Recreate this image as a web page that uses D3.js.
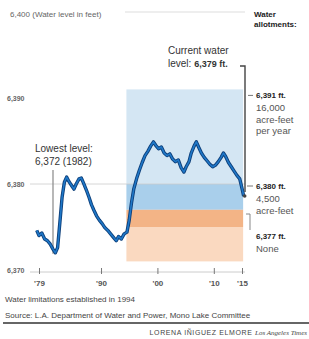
<!DOCTYPE html>
<html><head><meta charset="utf-8">
<script src="https://cdn.jsdelivr.net/npm/d3@7"></script>
<style>body{margin:0;background:#fff}svg{display:block;font-family:"Liberation Sans",Arial,sans-serif}</style>
</head><body><svg id="c" width="309" height="339"></svg>
<script>
const years = [1978.6,1979.0,1979.5,1980.0,1980.5,1981.0,1981.5,1981.9,1982.3,1982.7,1983.1,1983.5,1983.9,1984.3,1984.8,1985.2,1985.6,1986.1,1986.5,1986.9,1987.4,1987.9,1988.3,1988.7,1989.2,1989.7,1990.2,1990.7,1991.2,1991.7,1992.2,1992.7,1993.1,1993.6,1994.1,1994.6,1995.0,1995.4,1995.8,1996.3,1996.8,1997.3,1997.8,1998.3,1998.8,1999.3,1999.7,2000.2,2000.7,2001.2,2001.7,2002.2,2002.7,2003.2,2003.7,2004.2,2004.7,2005.1,2005.6,2006.0,2006.5,2006.9,2007.3,2007.8,2008.3,2008.8,2009.3,2009.8,2010.3,2010.8,2011.3,2011.7,2012.1,2012.6,2013.1,2013.6,2014.1,2014.6,2015.0,2015.3];
const levels = [6374.6,6374.0,6374.3,6373.6,6373.4,6373.0,6372.4,6372.0,6372.6,6375.5,6378.5,6380.2,6380.8,6380.3,6379.8,6379.4,6380.0,6380.6,6380.7,6380.1,6379.3,6378.4,6377.6,6377.0,6376.3,6375.8,6375.4,6374.9,6374.6,6374.2,6373.8,6373.4,6373.9,6373.6,6374.2,6374.4,6375.8,6377.8,6379.4,6380.6,6381.6,6382.5,6383.3,6383.8,6384.4,6384.9,6384.5,6384.1,6384.3,6383.6,6383.3,6383.5,6382.9,6382.6,6382.8,6381.9,6381.4,6382.0,6382.6,6383.6,6384.4,6384.9,6384.3,6383.6,6383.1,6382.7,6382.3,6382.0,6382.2,6382.6,6383.1,6383.6,6383.2,6382.5,6382.0,6381.5,6381.0,6380.6,6379.5,6378.6];
const tickYears = [1979,1990,2000,2010,2015];
const tickLabels = ["'79","'90","'00","'10","'15"];
const yTicks = [6370,6380,6390];
const yTickLabels = ["6,370","6,380","6,390"];
const zoneTops = [6391,6380,6377,6375];
const zoneBottoms = [6380,6377,6375,6371];
const zoneColors = ["#d4e6f3","#a9cfeb","#f3b486","#fad9c0"];
const zoneStart = 1994.5, zoneEnd = 2015.2;

const svg = d3.select("#c");
const x = d3.scaleLinear().domain([1979,2015]).range([39,242]);
const y = d3.scaleLinear().domain([6370,6380]).range([270,184]);

// zones
svg.selectAll("rect.zone").data(zoneTops).join("rect")
  .attr("x", x(zoneStart)).attr("width", x(zoneEnd)-x(zoneStart))
  .attr("y", d=>y(d)).attr("height",(d,i)=>y(zoneBottoms[i])-y(d))
  .attr("fill",(d,i)=>zoneColors[i]);

// gridlines
svg.append("line").attr("x1",125).attr("x2",245).attr("y1",y(6400)).attr("y2",y(6400)).attr("stroke","#ddd");
svg.append("line").attr("x1",30).attr("x2",245).attr("y1",y(6380)).attr("y2",y(6380)).attr("stroke","#ccc").attr("stroke-width",0.8);

// x axis
const xAxis = d3.axisBottom(x).tickValues(tickYears).tickFormat((d,i)=>tickLabels[i]).tickSize(5).tickPadding(3);
const gx = svg.append("g").attr("transform",`translate(0,${y(6370)+2})`).call(xAxis);
gx.select(".domain").attr("d",`M30,0H245`).attr("stroke","#ccc");
gx.selectAll(".tick line").attr("stroke","#777").attr("y1",-4).attr("y2",2);
gx.selectAll(".tick text").attr("font-size",8).attr("font-weight","bold").attr("fill","#555");

// y labels
svg.selectAll("text.yl").data(yTicks).join("text")
  .attr("x",7).attr("y",d=>y(d)+3).attr("font-size",7).attr("font-weight","bold").attr("fill","#666")
  .text((d,i)=>yTickLabels[i]);
svg.append("text").attr("x",10).attr("y",17).attr("font-size",8).attr("fill","#666").text("6,400 (Water level in feet)");

// lowest-level pointer
svg.append("line").attr("x1",53).attr("x2",53).attr("y1",170).attr("y2",y(6372)+1).attr("stroke","#888").attr("stroke-width",1.2);
svg.append("text").attr("x",35).attr("y",152).attr("font-size",10).attr("fill","#333").text("Lowest level:");
svg.append("text").attr("x",35).attr("y",165).attr("font-size",10).attr("fill","#333").text("6,372 (1982)");

// line
const line = d3.line().x((d,i)=>x(years[i])).y(d=>y(d)).curve(d3.curveLinear);
svg.append("path").datum(levels).attr("d",line).attr("fill","none").attr("stroke","#0d3f7a").attr("stroke-width",3.4).attr("stroke-linejoin","round");
svg.append("path").datum(levels).attr("d",line).attr("fill","none").attr("stroke","#1f78c8").attr("stroke-width",1.6).attr("stroke-linejoin","round");
const lastI = years.length-1;
svg.append("circle").attr("cx",x(years[lastI])+1).attr("cy",y(levels[lastI])).attr("r",1.8).attr("fill","#444");

// current level
const cur = svg.append("text").attr("x",168).attr("y",67).attr("font-size",10).attr("fill","#333");
svg.append("text").attr("x",168).attr("y",54).attr("font-size",10).attr("fill","#333").text("Current water");
cur.append("tspan").text("level: ");
cur.append("tspan").attr("font-weight","bold").attr("font-size",9).text("6,379 ft.");
svg.append("path").attr("d",`M240,66H245V${y(levels[lastI])-4}`).attr("fill","none").attr("stroke","#444").attr("stroke-width",1.4);

// right labels
svg.append("text").attr("x",254).attr("y",17).attr("font-size",8).attr("font-weight","bold").attr("fill","#222").text("Water");
svg.append("text").attr("x",254).attr("y",27).attr("font-size",8).attr("font-weight","bold").attr("fill","#222").text("allotments:");
function label(yy, bold, lines){
  svg.append("text").attr("x",256).attr("y",yy).attr("font-size",8).attr("font-weight","bold").attr("fill","#222").text(bold);
  lines.forEach((t,i)=>svg.append("text").attr("x",256).attr("y",yy+13+i*11.5).attr("font-size",9.5).attr("fill","#555").text(t));
}
svg.append("line").attr("x1",248).attr("x2",253).attr("y1",y(6391)+6).attr("y2",y(6391)+6).attr("stroke","#777");
label(y(6391)+9,"6,391 ft.",["16,000","acre-feet","per year"]);
svg.append("line").attr("x1",247).attr("x2",253).attr("y1",y(6380)+2).attr("y2",y(6380)+2).attr("stroke","#777");
label(y(6380)+5,"6,380 ft.",["4,500","acre-feet"]);
svg.append("path").attr("d",`M246,214H250V230`).attr("fill","none").attr("stroke","#888");
label(239,"6,377 ft.",["None"]);

// footer
svg.append("text").attr("x",5).attr("y",302).attr("font-size",8).attr("fill","#444").text("Water limitations established in 1994");
svg.append("text").attr("x",5).attr("y",318).attr("font-size",8).attr("fill","#444").text("Source: L.A. Department of Water and Power, Mono Lake Committee");
svg.append("line").attr("x1",3).attr("x2",309).attr("y1",323).attr("y2",323).attr("stroke","#333").attr("stroke-width",1.5);
const cr = svg.append("text").attr("x",307).attr("y",335).attr("text-anchor","end").attr("font-size",7).attr("fill","#444");
cr.append("tspan").attr("letter-spacing",0.6).text("LORENA IÑIGUEZ ELMORE ");
cr.append("tspan").attr("font-style","italic").attr("font-family","Liberation Serif, serif").text("Los Angeles Times");
</script></body></html>
